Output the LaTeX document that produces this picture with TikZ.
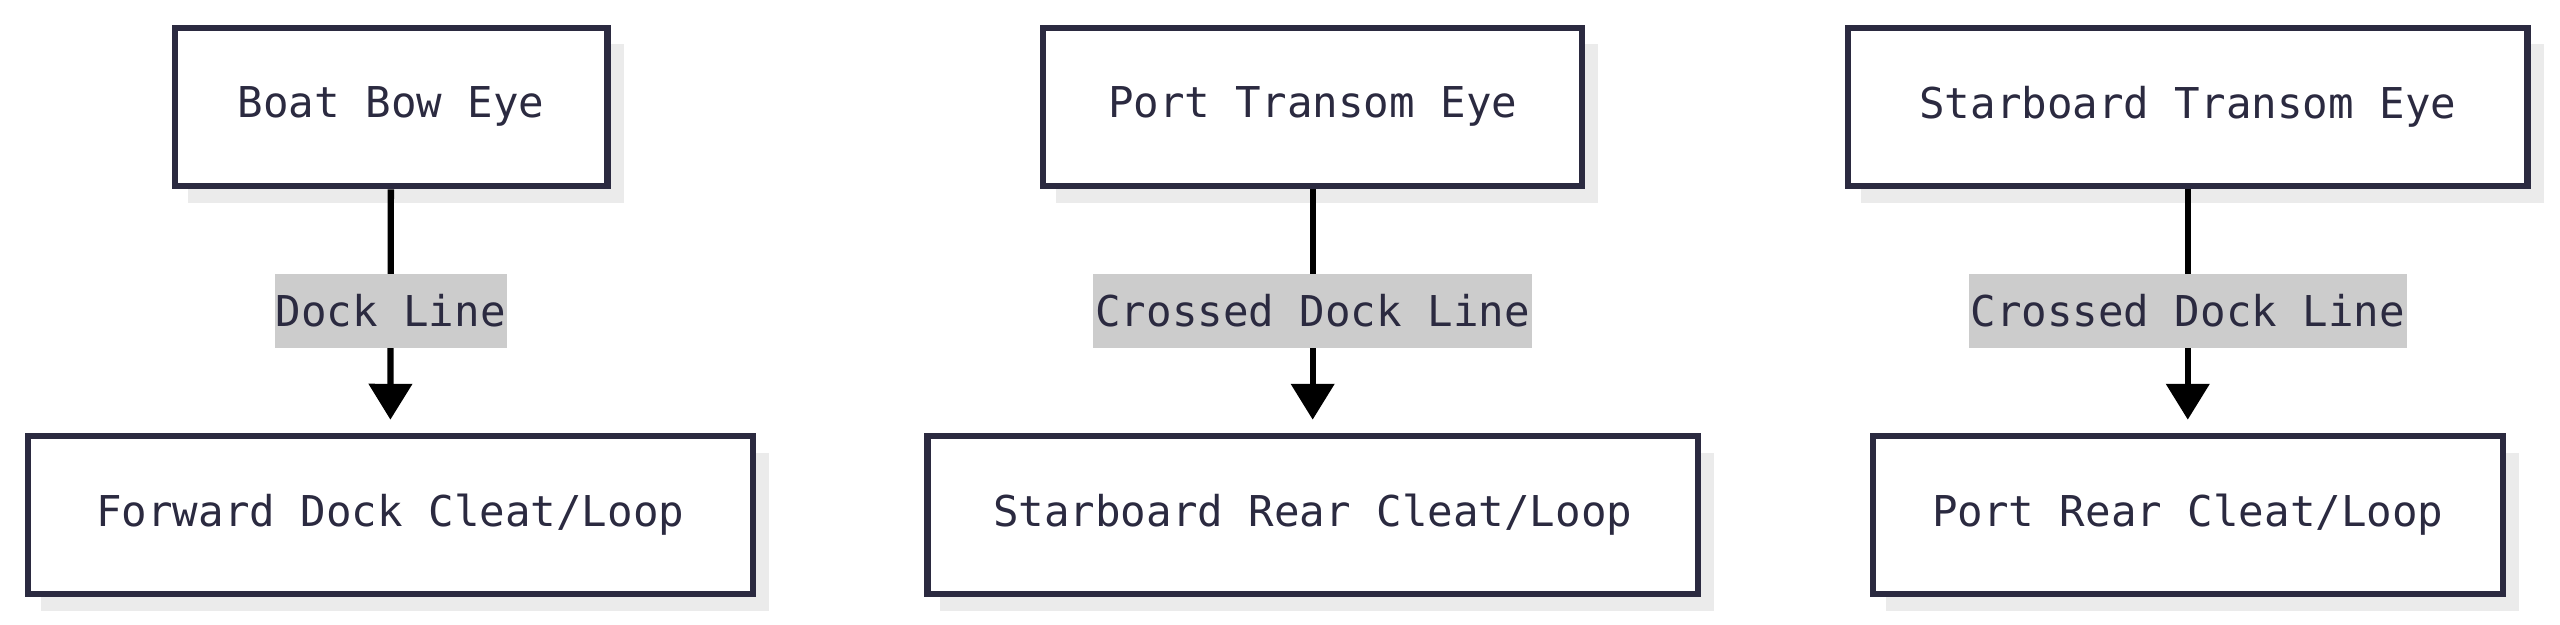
\documentclass[tikz,border=0pt]{standalone}
\usepackage{fontspec}
\setmainfont{DejaVu Sans Mono}
\usetikzlibrary{arrows.meta}
\definecolor{ink}{HTML}{2B2A40}
\definecolor{shade}{HTML}{EBEBEB}
\definecolor{tag}{HTML}{CCCCCC}
\tikzset{
    box/.style={draw=ink, line width=1.1pt, fill=white, text=ink, minimum height=0.97cm,
        inner sep=0pt, font=\fontsize{7.4pt}{9pt}\selectfont},
    shadow/.style={fill=shade, draw=none},
    tagged/.style={fill=tag, text=ink, inner sep=0pt, minimum height=0.45cm,
        font=\fontsize{7.4pt}{9pt}\selectfont},
    link/.style={line width=1.1pt, shorten >=0.08cm, -{Triangle[length=0.22cm, width=0.26cm]}}
}
\begin{document}
\begin{tikzpicture}
    \useasboundingbox (0,0) rectangle (15.68,3.822);
    % shadows
    \fill[shadow] (1.15,2.58) rectangle (3.82,3.55);
    \fill[shadow] (6.47,2.58) rectangle (9.79,3.55);
    \fill[shadow] (11.40,2.58) rectangle (15.58,3.55);
    \fill[shadow] (0.25,0.08) rectangle (4.71,1.05);
    \fill[shadow] (5.76,0.08) rectangle (10.50,1.05);
    \fill[shadow] (11.55,0.08) rectangle (15.43,1.05);

    % eyes on the boat
    \node[box, minimum width=2.65cm] (bow) at (2.395,3.167) {Boat Bow Eye};
    \node[box, minimum width=3.30cm] (port) at (8.04,3.167) {Port Transom Eye};
    \node[box, minimum width=4.16cm] (star) at (13.40,3.167) {Starboard Transom Eye};

    % cleats on the dock
    \node[box, minimum width=4.44cm] (fwd) at (2.39,0.667) {Forward Dock Cleat/Loop};
    \node[box, minimum width=4.72cm] (srear) at (8.04,0.667) {Starboard Rear Cleat/Loop};
    \node[box, minimum width=3.86cm] (prear) at (13.40,0.667) {Port Rear Cleat/Loop};

    % lines
    \draw[link] (bow) -- (fwd) node[tagged, pos=0.5, minimum width=1.42cm] (l1) {Dock Line};
    \draw[link] (port) -- (srear) node[tagged, pos=0.5, minimum width=2.69cm] (l2) {Crossed Dock Line};
    \draw[link] (star) -- (prear) node[tagged, pos=0.5, minimum width=2.68cm] (l3) {Crossed Dock Line};
\end{tikzpicture}
\end{document}
